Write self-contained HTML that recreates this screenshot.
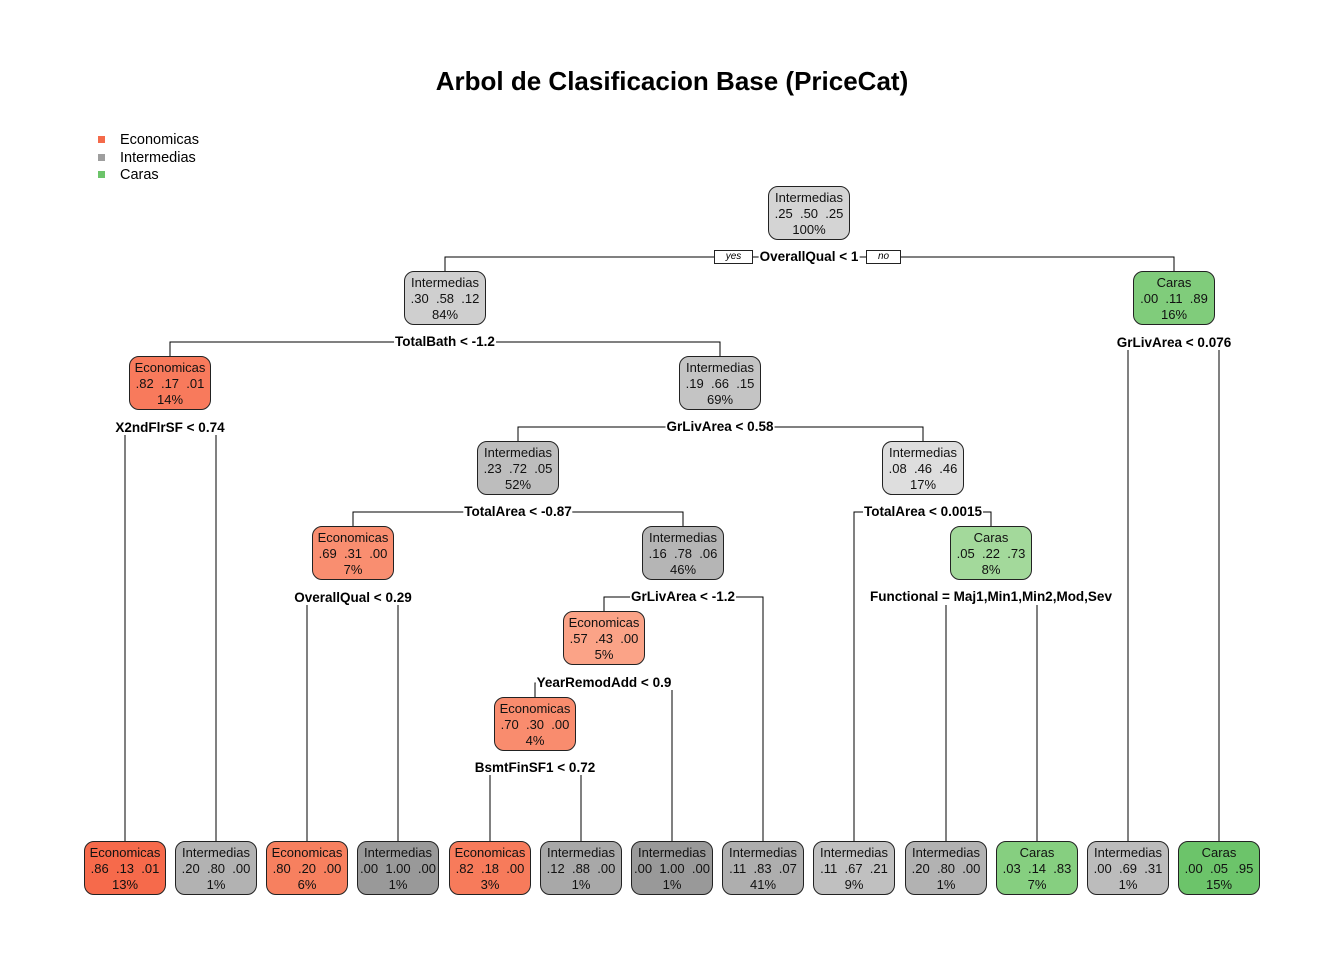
<!DOCTYPE html>
<html><head><meta charset="utf-8"><style>
body{margin:0;width:1344px;height:960px;background:#fff;position:relative;font-family:"Liberation Sans",Arial,sans-serif;overflow:hidden}
svg{position:absolute;left:0;top:0}
.n{position:absolute;width:80px;height:52px;border:1px solid #222;border-radius:10px;box-sizing:content-box;text-align:center;font-size:13px;line-height:16px;color:#111;padding-top:0}
.n div{height:16px;position:relative;top:3px}
.s{position:absolute;font-size:13.5px;font-weight:bold;background:#fff;white-space:nowrap;transform:translate(-50%,-50%);padding:0 1px;line-height:14px}
.b{position:absolute;font-size:10px;font-style:italic;border:1px solid #222;background:#fff;height:12px;line-height:12px;text-align:center;top:250px}
.t{position:absolute;left:0;width:1344px;text-align:center;top:66px;font-size:26px;font-weight:bold}
.lg{position:absolute;left:98px;font-size:14.5px;line-height:17px}
.lg span{display:inline-block;width:7px;height:7px;margin-right:15px;vertical-align:1px}
</style></head><body>
<div class="t">Arbol de Clasificacion Base (PriceCat)</div>
<div class="lg" style="top:132px"><span style="background:#f46a4a"></span>Economicas</div>
<div class="lg" style="top:150px"><span style="background:#9e9e9e"></span>Intermedias</div>
<div class="lg" style="top:167px"><span style="background:#6cc46a"></span>Caras</div>
<svg width="1344" height="960" stroke="#000" stroke-width="1" fill="none">
<path d="M445 271V257H1174V271"/>
<path d="M170 356V342H720V356"/>
<path d="M1128 350V841M1219 350V841"/>
<path d="M125 435V841M216 435V841"/>
<path d="M518 441V427H923V441"/>
<path d="M353 526V512H683V526"/>
<path d="M854 841V512H991V526"/>
<path d="M307 605V841M398 605V841"/>
<path d="M604 611V597H763V841"/>
<path d="M946 605V841M1037 605V841"/>
<path d="M535 697V683H672V841"/>
<path d="M490 775V841M581 775V841"/>
</svg>
<div class="b" style="left:714px;width:37px">yes</div>
<div class="b" style="left:866px;width:33px">no</div>
<div class="s" style="left:809px;top:257px">OverallQual &lt; 1</div>
<div class="s" style="left:445px;top:342px">TotalBath &lt; -1.2</div>
<div class="s" style="left:1174px;top:343px">GrLivArea &lt; 0.076</div>
<div class="s" style="left:170px;top:428px">X2ndFlrSF &lt; 0.74</div>
<div class="s" style="left:720px;top:427px">GrLivArea &lt; 0.58</div>
<div class="s" style="left:518px;top:512px">TotalArea &lt; -0.87</div>
<div class="s" style="left:923px;top:512px">TotalArea &lt; 0.0015</div>
<div class="s" style="left:353px;top:598px">OverallQual &lt; 0.29</div>
<div class="s" style="left:683px;top:597px">GrLivArea &lt; -1.2</div>
<div class="s" style="left:991px;top:597px">Functional = Maj1,Min1,Min2,Mod,Sev</div>
<div class="s" style="left:604px;top:683px">YearRemodAdd &lt; 0.9</div>
<div class="s" style="left:535px;top:768px">BsmtFinSF1 &lt; 0.72</div>

<div class="n" style="left:768px;top:186px;background:#d4d4d4"><div>Intermedias</div><div>.25 &nbsp;.50 &nbsp;.25</div><div>100%</div></div>
<div class="n" style="left:404px;top:271px;background:#cfcfcf"><div>Intermedias</div><div>.30 &nbsp;.58 &nbsp;.12</div><div>84%</div></div>
<div class="n" style="left:1133px;top:271px;background:#80cc7b"><div>Caras</div><div>.00 &nbsp;.11 &nbsp;.89</div><div>16%</div></div>
<div class="n" style="left:129px;top:356px;background:#f87a5c"><div>Economicas</div><div>.82 &nbsp;.17 &nbsp;.01</div><div>14%</div></div>
<div class="n" style="left:679px;top:356px;background:#c4c4c4"><div>Intermedias</div><div>.19 &nbsp;.66 &nbsp;.15</div><div>69%</div></div>
<div class="n" style="left:477px;top:441px;background:#bdbdbd"><div>Intermedias</div><div>.23 &nbsp;.72 &nbsp;.05</div><div>52%</div></div>
<div class="n" style="left:882px;top:441px;background:#dedede"><div>Intermedias</div><div>.08 &nbsp;.46 &nbsp;.46</div><div>17%</div></div>
<div class="n" style="left:312px;top:526px;background:#f98e70"><div>Economicas</div><div>.69 &nbsp;.31 &nbsp;.00</div><div>7%</div></div>
<div class="n" style="left:642px;top:526px;background:#b5b5b5"><div>Intermedias</div><div>.16 &nbsp;.78 &nbsp;.06</div><div>46%</div></div>
<div class="n" style="left:950px;top:526px;background:#a3d99b"><div>Caras</div><div>.05 &nbsp;.22 &nbsp;.73</div><div>8%</div></div>
<div class="n" style="left:563px;top:611px;background:#fba387"><div>Economicas</div><div>.57 &nbsp;.43 &nbsp;.00</div><div>5%</div></div>
<div class="n" style="left:494px;top:697px;background:#f98c6e"><div>Economicas</div><div>.70 &nbsp;.30 &nbsp;.00</div><div>4%</div></div>

<div class="n" style="left:84px;top:841px;background:#f66a4b"><div>Economicas</div><div>.86 &nbsp;.13 &nbsp;.01</div><div>13%</div></div>
<div class="n" style="left:175px;top:841px;background:#b2b2b2"><div>Intermedias</div><div>.20 &nbsp;.80 &nbsp;.00</div><div>1%</div></div>
<div class="n" style="left:266px;top:841px;background:#f7805f"><div>Economicas</div><div>.80 &nbsp;.20 &nbsp;.00</div><div>6%</div></div>
<div class="n" style="left:357px;top:841px;background:#999999"><div>Intermedias</div><div>.00 &nbsp;1.00 &nbsp;.00</div><div>1%</div></div>
<div class="n" style="left:449px;top:841px;background:#f77b5b"><div>Economicas</div><div>.82 &nbsp;.18 &nbsp;.00</div><div>3%</div></div>
<div class="n" style="left:540px;top:841px;background:#a8a8a8"><div>Intermedias</div><div>.12 &nbsp;.88 &nbsp;.00</div><div>1%</div></div>
<div class="n" style="left:631px;top:841px;background:#999999"><div>Intermedias</div><div>.00 &nbsp;1.00 &nbsp;.00</div><div>1%</div></div>
<div class="n" style="left:722px;top:841px;background:#aeaeae"><div>Intermedias</div><div>.11 &nbsp;.83 &nbsp;.07</div><div>41%</div></div>
<div class="n" style="left:813px;top:841px;background:#c0c0c0"><div>Intermedias</div><div>.11 &nbsp;.67 &nbsp;.21</div><div>9%</div></div>
<div class="n" style="left:905px;top:841px;background:#b2b2b2"><div>Intermedias</div><div>.20 &nbsp;.80 &nbsp;.00</div><div>1%</div></div>
<div class="n" style="left:996px;top:841px;background:#86cf80"><div>Caras</div><div>.03 &nbsp;.14 &nbsp;.83</div><div>7%</div></div>
<div class="n" style="left:1087px;top:841px;background:#bcbcbc"><div>Intermedias</div><div>.00 &nbsp;.69 &nbsp;.31</div><div>1%</div></div>
<div class="n" style="left:1178px;top:841px;background:#6cc46a"><div>Caras</div><div>.00 &nbsp;.05 &nbsp;.95</div><div>15%</div></div>
</body></html>
